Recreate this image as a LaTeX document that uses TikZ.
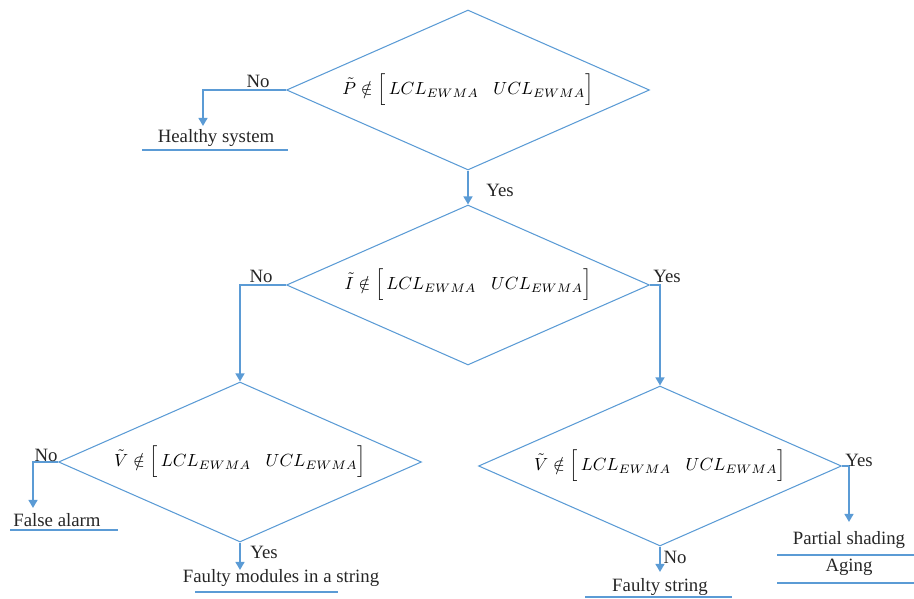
\documentclass[tikz,border=0pt]{standalone}
\usepackage{fontspec}
\setmainfont{Liberation Serif}
\usetikzlibrary{arrows.meta,shapes.geometric}
\definecolor{lineblue}{RGB}{91,155,213}
\begin{document}
\begin{tikzpicture}[x=0.02cm,y=-0.02cm,
  font=\fontsize{10.7}{13}\selectfont,
  test/.style={diamond,draw=lineblue,line width=0.6pt,inner sep=0pt,
    shape aspect=2.27,minimum width=7.26cm,minimum height=3.2cm,
    font=\fontsize{10}{12}\selectfont},
  flow/.style={-{Triangle[length=4.6pt,width=5pt]},line width=1.2pt,draw=lineblue},
  uline/.style={line width=0.8pt,draw=lineblue},
  lbl/.style={inner sep=0pt,text=black!85},
  result/.style={inner sep=0pt,text=black!85}
]
  \useasboundingbox (0,0) rectangle (914,599);

  \node[test] (dP) at (468,90)
    {$\tilde{P}\notin\Big[\,LCL_{EWMA}\;\;\;UCL_{EWMA}\Big]$};
  \node[test] (dI) at (468,285)
    {$\tilde{I}\notin\Big[\,LCL_{EWMA}\;\;\;UCL_{EWMA}\Big]$};
  \node[test] (dVl) at (240,462)
    {$\tilde{V}\notin\Big[\,LCL_{EWMA}\;\;\;UCL_{EWMA}\Big]$};
  \node[test] (dVr) at (660,466)
    {$\tilde{V}\notin\Big[\,LCL_{EWMA}\;\;\;UCL_{EWMA}\Big]$};

  \node[result] (healthy) at (216,138) {Healthy system};
  \node[result] (alarm) at (57,520) {False alarm};
  \node[result] (modules) at (281,578) {Faulty modules in a string};
  \node[result] (string) at (660,587) {Faulty string};
  \node[result] (shading) at (849,540) {Partial shading};
  \node[result] (aging) at (849,567) {Aging};

  \coordinate (healthyIn) at (203,126);
  \coordinate (alarmIn) at (33,508);
  \coordinate (modulesIn) at (240,570);
  \coordinate (stringIn) at (660,572);
  \coordinate (shadingIn) at (849,522);

  \draw[flow] (dP.west) -| (healthyIn);
  \draw[flow] (dP.south) -- (dI.north);
  \draw[flow] (dI.west) -| (dVl.north);
  \draw[flow] (dI.east) -| (dVr.north);
  \draw[flow] (dVl.west) -| (alarmIn);
  \draw[flow] (dVl.south) -- (modulesIn);
  \draw[flow] (dVr.south) -- (stringIn);
  \draw[flow] (dVr.east) -| (shadingIn);

  \node[lbl] (noP) at (258,81) {No};
  \node[lbl] (yesP) at (500,190) {Yes};
  \node[lbl] (noI) at (261,276) {No};
  \node[lbl] (yesI) at (667,276) {Yes};
  \node[lbl] (noVl) at (46,455) {No};
  \node[lbl] (yesVl) at (264,552) {Yes};
  \node[lbl] (noVr) at (675,557) {No};
  \node[lbl] (yesVr) at (859,460) {Yes};

  \draw[uline] (142,150) -- (288,150);
  \draw[uline] (10,530) -- (118,530);
  \draw[uline] (195,592) -- (338,592);
  \draw[uline] (585,597) -- (732,597);
  \draw[uline] (777,555) -- (914,555);
  \draw[uline] (777,583) -- (914,583);
\end{tikzpicture}
\end{document}
